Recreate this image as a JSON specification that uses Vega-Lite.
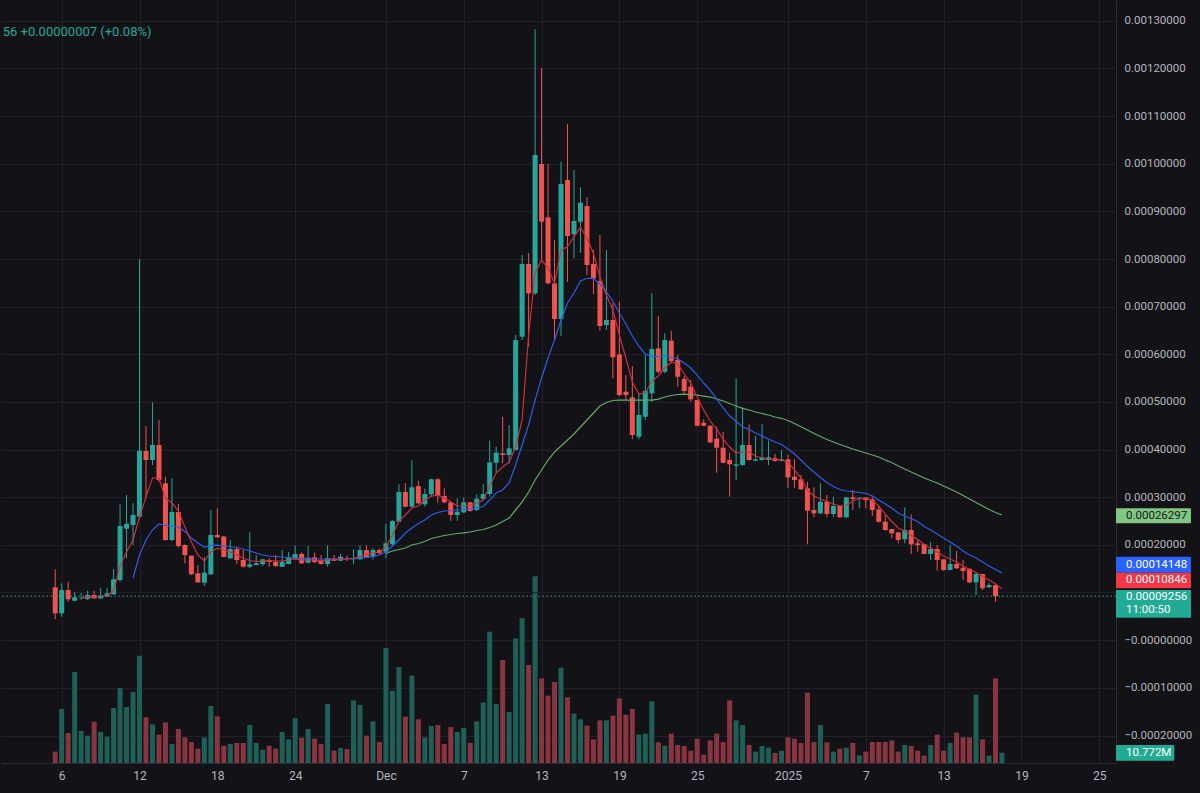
{
"$schema": "https://vega.github.io/schema/vega-lite/v6.json",
"width": 1115, "height": 763, "padding": 0, "background": "#131317",
"config": {"view": {"stroke": null}, "font": "Roboto", "text": {"font": "Roboto"}},
"data": {"values": [
{"t":"2024-11-05T12:00","open":0.0001112,"high":0.000149,"low":0.0000441,"close":0.0000566,"volume":11.9},
{"t":"2024-11-06T00:00","open":0.0000566,"high":0.0001196,"low":0.0000495,"close":0.0001055,"volume":56.5},
{"t":"2024-11-06T12:00","open":0.0001055,"high":0.0001229,"low":0.000081,"close":0.000086,"volume":31.4},
{"t":"2024-11-07T00:00","open":0.0000831,"high":0.000102,"low":0.0000825,"close":0.0000902,"volume":95.2},
{"t":"2024-11-07T12:00","open":0.0000877,"high":0.0000992,"low":0.0000856,"close":0.0000887,"volume":33.5,"ma_fast":0.0000887},
{"t":"2024-11-08T00:00","open":0.0000866,"high":0.0001041,"low":0.0000845,"close":0.000095,"volume":28.6,"ma_fast":0.0000908},
{"t":"2024-11-08T12:00","open":0.000095,"high":0.0001041,"low":0.0000866,"close":0.0000881,"volume":43.2,"ma_fast":0.0000908},
{"t":"2024-11-09T00:00","open":0.0000881,"high":0.0001097,"low":0.0000866,"close":0.0000936,"volume":32.4,"ma_fast":0.0000919},
{"t":"2024-11-09T12:00","open":0.0000915,"high":0.0001104,"low":0.0000908,"close":0.0000986,"volume":27.5,"ma_fast":0.000094},
{"t":"2024-11-10T00:00","open":0.0000965,"high":0.0001496,"low":0.000095,"close":0.000128,"volume":57.5,"ma_fast":0.0001034},
{"t":"2024-11-10T12:00","open":0.0001265,"high":0.0002853,"low":0.0001229,"close":0.0002398,"volume":78.4,"ma_fast":0.0001559},
{"t":"2024-11-11T00:00","open":0.0002341,"high":0.0003048,"low":0.000172,"close":0.000244,"volume":58.6,"ma_fast":0.0001853},
{"t":"2024-11-11T12:00","open":0.0002419,"high":0.0002874,"low":0.0001999,"close":0.0002629,"volume":74.3,"ma_fast":0.0002104,"ma_mid":0.0001307},
{"t":"2024-11-12T00:00","open":0.0002593,"high":0.0007993,"low":0.000256,"close":0.0003978,"volume":112.2,"ma_fast":0.0002587,"ma_mid":0.000179},
{"t":"2024-11-12T12:00","open":0.0003972,"high":0.0004496,"low":0.0002979,"close":0.0003783,"volume":47.8,"ma_fast":0.0003006,"ma_mid":0.0002104},
{"t":"2024-11-13T00:00","open":0.0003783,"high":0.0004993,"low":0.0003678,"close":0.0004097,"volume":40.4,"ma_fast":0.0003405,"ma_mid":0.0002314},
{"t":"2024-11-13T12:00","open":0.0004097,"high":0.0004622,"low":0.000332,"close":0.0003363,"volume":29.6,"ma_fast":0.0003405,"ma_mid":0.000244},
{"t":"2024-11-14T00:00","open":0.0003294,"high":0.0003432,"low":0.000209,"close":0.0002104,"volume":42.5,"ma_fast":0.0002985,"ma_mid":0.0002409},
{"t":"2024-11-14T12:00","open":0.0002104,"high":0.0003399,"low":0.000208,"close":0.0002692,"volume":19.9,"ma_fast":0.0002881,"ma_mid":0.0002398},
{"t":"2024-11-15T00:00","open":0.0002692,"high":0.000286,"low":0.0001943,"close":0.0001978,"volume":35.6,"ma_fast":0.0002713,"ma_mid":0.0002377},
{"t":"2024-11-15T12:00","open":0.0001999,"high":0.000201,"low":0.0001615,"close":0.000179,"volume":26.8,"ma_fast":0.0002377,"ma_mid":0.0002283},
{"t":"2024-11-16T00:00","open":0.0001775,"high":0.000178,"low":0.000137,"close":0.0001385,"volume":22.0,"ma_fast":0.0002062,"ma_mid":0.0002146},
{"t":"2024-11-16T12:00","open":0.0001406,"high":0.000158,"low":0.0001205,"close":0.0001217,"volume":15.0,"ma_fast":0.000179,"ma_mid":0.0002041},
{"t":"2024-11-17T00:00","open":0.0001208,"high":0.0001754,"low":0.0001139,"close":0.0001418,"volume":26.8,"ma_fast":0.0001664,"ma_mid":0.0001957},
{"t":"2024-11-17T12:00","open":0.0001385,"high":0.0002734,"low":0.000137,"close":0.0002209,"volume":59.6,"ma_fast":0.0001853,"ma_mid":0.0001989},
{"t":"2024-11-18T00:00","open":0.0002209,"high":0.0002769,"low":0.000215,"close":0.0002161,"volume":48.8,"ma_fast":0.0001936,"ma_mid":0.0001999},
{"t":"2024-11-18T12:00","open":0.0002178,"high":0.000219,"low":0.0001741,"close":0.0001748,"volume":18.1,"ma_fast":0.0001894,"ma_mid":0.0001978},
{"t":"2024-11-19T00:00","open":0.000172,"high":0.0002104,"low":0.000171,"close":0.0001916,"volume":19.9,"ma_fast":0.0001853,"ma_mid":0.0001968},
{"t":"2024-11-19T12:00","open":0.0001916,"high":0.0001964,"low":0.0001601,"close":0.0001685,"volume":20.9,"ma_fast":0.000179,"ma_mid":0.0001947},
{"t":"2024-11-20T00:00","open":0.0001685,"high":0.0001895,"low":0.000153,"close":0.0001544,"volume":20.9,"ma_fast":0.0001727,"ma_mid":0.0001915},
{"t":"2024-11-20T12:00","open":0.0001544,"high":0.0002266,"low":0.0001511,"close":0.0001595,"volume":39.7,"ma_fast":0.0001674,"ma_mid":0.0001873},
{"t":"2024-11-21T00:00","open":0.000158,"high":0.000179,"low":0.000157,"close":0.0001615,"volume":20.9,"ma_fast":0.0001653,"ma_mid":0.0001832},
{"t":"2024-11-21T12:00","open":0.0001601,"high":0.000171,"low":0.0001559,"close":0.0001699,"volume":13.9,"ma_fast":0.0001664,"ma_mid":0.000179},
{"t":"2024-11-22T00:00","open":0.0001685,"high":0.0001727,"low":0.0001544,"close":0.0001643,"volume":18.1,"ma_fast":0.0001674,"ma_mid":0.0001769},
{"t":"2024-11-22T12:00","open":0.0001649,"high":0.000179,"low":0.0001544,"close":0.0001559,"volume":15.0,"ma_fast":0.0001664,"ma_mid":0.0001758},
{"t":"2024-11-23T00:00","open":0.0001544,"high":0.0001895,"low":0.0001538,"close":0.0001643,"volume":32.4,"ma_fast":0.0001664,"ma_mid":0.0001748},
{"t":"2024-11-23T12:00","open":0.0001601,"high":0.0001853,"low":0.000159,"close":0.0001741,"volume":24.7,"ma_fast":0.0001685,"ma_mid":0.0001737},
{"t":"2024-11-24T00:00","open":0.0001712,"high":0.0001993,"low":0.0001706,"close":0.0001811,"volume":46.7,"ma_fast":0.0001706,"ma_mid":0.0001727},
{"t":"2024-11-24T12:00","open":0.0001811,"high":0.0001846,"low":0.00016,"close":0.0001615,"volume":26.5,"ma_fast":0.0001685,"ma_mid":0.000172},
{"t":"2024-11-25T00:00","open":0.0001628,"high":0.0001978,"low":0.000162,"close":0.0001733,"volume":35.6,"ma_fast":0.0001685,"ma_mid":0.0001714},
{"t":"2024-11-25T12:00","open":0.0001741,"high":0.0001838,"low":0.0001615,"close":0.0001643,"volume":25.4,"ma_fast":0.0001685,"ma_mid":0.0001706},
{"t":"2024-11-26T00:00","open":0.000167,"high":0.000179,"low":0.000159,"close":0.0001601,"volume":19.9,"ma_fast":0.0001664,"ma_mid":0.0001706},
{"t":"2024-11-26T12:00","open":0.0001601,"high":0.0001993,"low":0.0001544,"close":0.000172,"volume":61.7,"ma_fast":0.0001685,"ma_mid":0.0001706},
{"t":"2024-11-27T00:00","open":0.0001712,"high":0.000179,"low":0.0001664,"close":0.000167,"volume":12.9,"ma_fast":0.0001695,"ma_mid":0.0001706},
{"t":"2024-11-27T12:00","open":0.000167,"high":0.0001811,"low":0.0001664,"close":0.0001754,"volume":15.7,"ma_fast":0.0001706,"ma_mid":0.0001706},
{"t":"2024-11-28T00:00","open":0.000172,"high":0.0001775,"low":0.0001664,"close":0.0001715,"volume":14.6,"ma_fast":0.0001706,"ma_mid":0.0001706},
{"t":"2024-11-28T12:00","open":0.0001699,"high":0.0001909,"low":0.0001601,"close":0.000172,"volume":65.5,"ma_fast":0.0001716,"ma_mid":0.0001716},
{"t":"2024-11-29T00:00","open":0.0001699,"high":0.0001993,"low":0.000169,"close":0.0001895,"volume":60.7,"ma_fast":0.0001769,"ma_mid":0.0001727},
{"t":"2024-11-29T12:00","open":0.0001895,"high":0.0001993,"low":0.000173,"close":0.0001741,"volume":28.6,"ma_fast":0.0001811,"ma_mid":0.0001741},
{"t":"2024-11-30T00:00","open":0.0001754,"high":0.0001937,"low":0.0001699,"close":0.0001895,"volume":43.6,"ma_fast":0.0001832,"ma_mid":0.0001758},
{"t":"2024-11-30T12:00","open":0.0001895,"high":0.0001922,"low":0.0001804,"close":0.0001825,"volume":22.0,"ma_fast":0.0001853,"ma_mid":0.000179},
{"t":"2024-12-01T00:00","open":0.0001859,"high":0.000244,"low":0.000172,"close":0.0002035,"volume":120.3,"ma_fast":0.0001957,"ma_mid":0.0001853,"ma_slow":0.0001821},
{"t":"2024-12-01T12:00","open":0.0002014,"high":0.000252,"low":0.0002,"close":0.0002503,"volume":75.6,"ma_fast":0.0002209,"ma_mid":0.0001978,"ma_slow":0.0001873},
{"t":"2024-12-02T00:00","open":0.0002488,"high":0.0003273,"low":0.000248,"close":0.0003111,"volume":100.4,"ma_fast":0.0002503,"ma_mid":0.0002104,"ma_slow":0.0001905},
{"t":"2024-12-02T12:00","open":0.0003111,"high":0.0003294,"low":0.000279,"close":0.0002803,"volume":48.5,"ma_fast":0.0002629,"ma_mid":0.0002251,"ma_slow":0.0001936},
{"t":"2024-12-03T00:00","open":0.0002803,"high":0.0003776,"low":0.000279,"close":0.000321,"volume":91.3,"ma_fast":0.0002776,"ma_mid":0.0002356,"ma_slow":0.0001999},
{"t":"2024-12-03T12:00","open":0.0003237,"high":0.0003349,"low":0.000286,"close":0.0002874,"volume":45.7,"ma_fast":0.0002818,"ma_mid":0.000245,"ma_slow":0.0002031},
{"t":"2024-12-04T00:00","open":0.0002853,"high":0.0003181,"low":0.0002803,"close":0.0003069,"volume":26.8,"ma_fast":0.0002943,"ma_mid":0.0002524,"ma_slow":0.0002073},
{"t":"2024-12-04T12:00","open":0.0003063,"high":0.000339,"low":0.0003013,"close":0.0003378,"volume":38.7,"ma_fast":0.0003027,"ma_mid":0.0002629,"ma_slow":0.0002136},
{"t":"2024-12-05T00:00","open":0.0003378,"high":0.0003399,"low":0.0002887,"close":0.0003027,"volume":39.7,"ma_fast":0.0003048,"ma_mid":0.0002681,"ma_slow":0.0002167},
{"t":"2024-12-05T12:00","open":0.0003027,"high":0.0003189,"low":0.0002874,"close":0.0002895,"volume":19.9,"ma_fast":0.0002985,"ma_mid":0.0002713,"ma_slow":0.0002199},
{"t":"2024-12-06T00:00","open":0.0002895,"high":0.0002905,"low":0.0002509,"close":0.0002629,"volume":37.6,"ma_fast":0.0002908,"ma_mid":0.0002723,"ma_slow":0.000222},
{"t":"2024-12-06T12:00","open":0.0002629,"high":0.0002979,"low":0.0002509,"close":0.0002698,"volume":32.4,"ma_fast":0.0002818,"ma_mid":0.0002734,"ma_slow":0.0002241},
{"t":"2024-12-07T00:00","open":0.0002685,"high":0.0003,"low":0.0002664,"close":0.0002895,"volume":36.6,"ma_fast":0.0002818,"ma_mid":0.0002744,"ma_slow":0.0002255},
{"t":"2024-12-07T12:00","open":0.0002895,"high":0.0002905,"low":0.0002698,"close":0.0002713,"volume":20.9,"ma_fast":0.0002839,"ma_mid":0.0002755,"ma_slow":0.0002272},
{"t":"2024-12-08T00:00","open":0.0002734,"high":0.0003063,"low":0.0002713,"close":0.0002971,"volume":43.6,"ma_fast":0.000287,"ma_mid":0.0002776,"ma_slow":0.0002304},
{"t":"2024-12-08T12:00","open":0.0002964,"high":0.0003279,"low":0.0002943,"close":0.0003069,"volume":63.4,"ma_fast":0.0002943,"ma_mid":0.0002807,"ma_slow":0.0002325},
{"t":"2024-12-09T00:00","open":0.0003069,"high":0.0004188,"low":0.0003013,"close":0.0003734,"volume":137.3,"ma_fast":0.0003237,"ma_mid":0.0002943,"ma_slow":0.0002367},
{"t":"2024-12-09T12:00","open":0.0003726,"high":0.0004062,"low":0.0003516,"close":0.0003936,"volume":61.7,"ma_fast":0.000351,"ma_mid":0.000309,"ma_slow":0.0002419},
{"t":"2024-12-10T00:00","open":0.0003923,"high":0.0004691,"low":0.0003713,"close":0.0003888,"volume":107.7,"ma_fast":0.0003636,"ma_mid":0.0003153,"ma_slow":0.0002492},
{"t":"2024-12-10T12:00","open":0.0003888,"high":0.0004517,"low":0.0003713,"close":0.0004028,"volume":53.3,"ma_fast":0.0003741,"ma_mid":0.00033,"ma_slow":0.0002566},
{"t":"2024-12-11T00:00","open":0.0003992,"high":0.0006405,"low":0.000399,"close":0.00063,"volume":130.4,"ma_fast":0.0004055,"ma_mid":0.0003678,"ma_slow":0.0002734},
{"t":"2024-12-11T12:00","open":0.000637,"high":0.0008084,"low":0.00063,"close":0.0007895,"volume":151.3,"ma_fast":0.0004622,"ma_mid":0.0004097,"ma_slow":0.0002902},
{"t":"2024-12-12T00:00","open":0.0007895,"high":0.0008119,"low":0.000616,"close":0.000728,"volume":102.5,"ma_fast":0.0006405,"ma_mid":0.0004517,"ma_slow":0.0003111},
{"t":"2024-12-12T12:00","open":0.000728,"high":0.0012819,"low":0.0007244,"close":0.0010182,"volume":195.2,"ma_fast":0.0007706,"ma_mid":0.0005041,"ma_slow":0.0003363},
{"t":"2024-12-13T00:00","open":0.0009993,"high":0.0012001,"low":0.0007979,"close":0.0008782,"volume":88.5,"ma_fast":0.0007979,"ma_mid":0.0005503,"ma_slow":0.0003573},
{"t":"2024-12-13T12:00","open":0.0008875,"high":0.0009993,"low":0.000747,"close":0.000749,"volume":70.4,"ma_fast":0.0007811,"ma_mid":0.0005923,"ma_slow":0.0003783},
{"t":"2024-12-14T00:00","open":0.000749,"high":0.0008398,"low":0.00063,"close":0.0006741,"volume":84.7,"ma_fast":0.0007496,"ma_mid":0.00063,"ma_slow":0.0003951},
{"t":"2024-12-14T12:00","open":0.0006741,"high":0.0010041,"low":0.0006384,"close":0.0009573,"volume":99.7,"ma_fast":0.0008188,"ma_mid":0.000672,"ma_slow":0.0004076},
{"t":"2024-12-15T00:00","open":0.0009657,"high":0.0010832,"low":0.0007523,"close":0.0008482,"volume":68.7,"ma_fast":0.0008258,"ma_mid":0.0007077,"ma_slow":0.0004202},
{"t":"2024-12-15T12:00","open":0.0008518,"high":0.0009867,"low":0.0008014,"close":0.0008797,"volume":51.6,"ma_fast":0.0008468,"ma_mid":0.0007286,"ma_slow":0.0004328},
{"t":"2024-12-16T00:00","open":0.0008782,"high":0.0009504,"low":0.0008132,"close":0.0009181,"volume":45.7,"ma_fast":0.0008665,"ma_mid":0.0007538,"ma_slow":0.0004475},
{"t":"2024-12-16T12:00","open":0.0009112,"high":0.0009294,"low":0.0007664,"close":0.0007874,"volume":39.0,"ma_fast":0.0008434,"ma_mid":0.0007595,"ma_slow":0.0004622},
{"t":"2024-12-17T00:00","open":0.0007895,"high":0.0008189,"low":0.0007265,"close":0.0007595,"volume":24.7,"ma_fast":0.0008119,"ma_mid":0.0007595,"ma_slow":0.0004769},
{"t":"2024-12-17T12:00","open":0.0007538,"high":0.0008503,"low":0.0006495,"close":0.0006594,"volume":44.6,"ma_fast":0.0007628,"ma_mid":0.0007475,"ma_slow":0.0004916},
{"t":"2024-12-18T00:00","open":0.0006615,"high":0.0008189,"low":0.000651,"close":0.000672,"volume":44.6,"ma_fast":0.0007244,"ma_mid":0.0007307,"ma_slow":0.0004989},
{"t":"2024-12-18T12:00","open":0.000672,"high":0.0007083,"low":0.0005497,"close":0.0005937,"volume":49.5,"ma_fast":0.000693,"ma_mid":0.0007119,"ma_slow":0.0005031},
{"t":"2024-12-19T00:00","open":0.0006,"high":0.0007104,"low":0.000513,"close":0.0005146,"volume":67.6,"ma_fast":0.0006405,"ma_mid":0.0006867,"ma_slow":0.0005041},
{"t":"2024-12-19T12:00","open":0.0005216,"high":0.0005566,"low":0.0005041,"close":0.0005146,"volume":50.5,"ma_fast":0.0005923,"ma_mid":0.0006636,"ma_slow":0.0005041},
{"t":"2024-12-20T00:00","open":0.0005098,"high":0.0005755,"low":0.0004217,"close":0.0004307,"volume":56.5,"ma_fast":0.0005419,"ma_mid":0.0006384,"ma_slow":0.0005041},
{"t":"2024-12-20T12:00","open":0.0004272,"high":0.0005182,"low":0.0004217,"close":0.0004727,"volume":29.6,"ma_fast":0.0005167,"ma_mid":0.0006174,"ma_slow":0.0005041},
{"t":"2024-12-21T00:00","open":0.0004691,"high":0.0005986,"low":0.0004622,"close":0.000523,"volume":30.7,"ma_fast":0.0005188,"ma_mid":0.0006007,"ma_slow":0.0005041},
{"t":"2024-12-21T12:00","open":0.0005182,"high":0.000728,"low":0.0005006,"close":0.0006112,"volume":64.5,"ma_fast":0.000544,"ma_mid":0.0005954,"ma_slow":0.0005041},
{"t":"2024-12-22T00:00","open":0.0006126,"high":0.0006804,"low":0.0005602,"close":0.0005635,"volume":21.6,"ma_fast":0.0005545,"ma_mid":0.0005954,"ma_slow":0.0005062},
{"t":"2024-12-22T12:00","open":0.0005635,"high":0.0006441,"low":0.0005602,"close":0.00063,"volume":18.1,"ma_fast":0.0005713,"ma_mid":0.0005965,"ma_slow":0.0005104},
{"t":"2024-12-23T00:00","open":0.0006286,"high":0.0006495,"low":0.0005812,"close":0.000586,"volume":30.7,"ma_fast":0.0005839,"ma_mid":0.0005944,"ma_slow":0.0005136},
{"t":"2024-12-23T12:00","open":0.0005881,"high":0.0005986,"low":0.0005321,"close":0.000553,"volume":18.8,"ma_fast":0.0005797,"ma_mid":0.0005902,"ma_slow":0.0005157},
{"t":"2024-12-24T00:00","open":0.0005482,"high":0.0005545,"low":0.0005188,"close":0.000523,"volume":17.8,"ma_fast":0.0005587,"ma_mid":0.0005818,"ma_slow":0.0005167},
{"t":"2024-12-24T12:00","open":0.0005321,"high":0.0005461,"low":0.0005006,"close":0.0005056,"volume":12.9,"ma_fast":0.0005398,"ma_mid":0.0005713,"ma_slow":0.0005157},
{"t":"2024-12-25T00:00","open":0.0005041,"high":0.000505,"low":0.000449,"close":0.0004502,"volume":25.4,"ma_fast":0.0005104,"ma_mid":0.0005566,"ma_slow":0.0005146},
{"t":"2024-12-25T12:00","open":0.0004565,"high":0.0004637,"low":0.000449,"close":0.0004502,"volume":8.7,"ma_fast":0.0004832,"ma_mid":0.0005398,"ma_slow":0.0005125},
{"t":"2024-12-26T00:00","open":0.0004502,"high":0.000451,"low":0.0004133,"close":0.0004154,"volume":23.7,"ma_fast":0.0004601,"ma_mid":0.0005251,"ma_slow":0.0005104},
{"t":"2024-12-26T12:00","open":0.000423,"high":0.0004482,"low":0.0003516,"close":0.0004041,"volume":30.7,"ma_fast":0.0004433,"ma_mid":0.0005062,"ma_slow":0.0005062},
{"t":"2024-12-27T00:00","open":0.0004041,"high":0.0004377,"low":0.000371,"close":0.0003726,"volume":22.0,"ma_fast":0.0004223,"ma_mid":0.0004874,"ma_slow":0.000502},
{"t":"2024-12-27T12:00","open":0.0003783,"high":0.0003936,"low":0.0003013,"close":0.0003693,"volume":65.5,"ma_fast":0.0004055,"ma_mid":0.0004706,"ma_slow":0.0004968},
{"t":"2024-12-28T00:00","open":0.0003663,"high":0.0005497,"low":0.0003363,"close":0.0003693,"volume":44.6,"ma_fast":0.000393,"ma_mid":0.000459,"ma_slow":0.0004916},
{"t":"2024-12-28T12:00","open":0.0003678,"high":0.0004888,"low":0.0003663,"close":0.0004097,"volume":39.7,"ma_fast":0.0003951,"ma_mid":0.0004481,"ma_slow":0.0004867},
{"t":"2024-12-29T00:00","open":0.0004097,"high":0.0004532,"low":0.000377,"close":0.0003783,"volume":18.8,"ma_fast":0.0003951,"ma_mid":0.0004423,"ma_slow":0.0004832},
{"t":"2024-12-29T12:00","open":0.0003768,"high":0.0004286,"low":0.000376,"close":0.0003797,"volume":11.9,"ma_fast":0.0003867,"ma_mid":0.0004349,"ma_slow":0.000479},
{"t":"2024-12-30T00:00","open":0.0003783,"high":0.0004538,"low":0.000377,"close":0.0003839,"volume":17.8,"ma_fast":0.0003825,"ma_mid":0.0004286,"ma_slow":0.0004758},
{"t":"2024-12-30T12:00","open":0.0003783,"high":0.0004188,"low":0.0003678,"close":0.0003839,"volume":16.0,"ma_fast":0.0003804,"ma_mid":0.0004223,"ma_slow":0.0004727},
{"t":"2024-12-31T00:00","open":0.0003825,"high":0.0003909,"low":0.0003741,"close":0.0003762,"volume":10.5,"ma_fast":0.0003797,"ma_mid":0.000416,"ma_slow":0.0004685},
{"t":"2024-12-31T12:00","open":0.0003762,"high":0.0003993,"low":0.000375,"close":0.0003797,"volume":12.9,"ma_fast":0.0003783,"ma_mid":0.0004108,"ma_slow":0.0004658},
{"t":"2025-01-01T00:00","open":0.0003797,"high":0.0003888,"low":0.0003202,"close":0.000342,"volume":26.8,"ma_fast":0.0003741,"ma_mid":0.0004013,"ma_slow":0.0004611},
{"t":"2025-01-01T12:00","open":0.0003432,"high":0.0003797,"low":0.0003202,"close":0.0003363,"volume":25.4,"ma_fast":0.0003573,"ma_mid":0.0003909,"ma_slow":0.0004548},
{"t":"2025-01-02T00:00","open":0.0003378,"high":0.0003468,"low":0.0003153,"close":0.0003168,"volume":20.9,"ma_fast":0.0003405,"ma_mid":0.0003783,"ma_slow":0.0004481},
{"t":"2025-01-02T12:00","open":0.0003189,"high":0.0003327,"low":0.0002014,"close":0.0002719,"volume":73.6,"ma_fast":0.0003153,"ma_mid":0.0003646,"ma_slow":0.0004412},
{"t":"2025-01-03T00:00","open":0.0002734,"high":0.000321,"low":0.0002581,"close":0.0002664,"volume":22.0,"ma_fast":0.0003027,"ma_mid":0.0003531,"ma_slow":0.0004339},
{"t":"2025-01-03T12:00","open":0.0002664,"high":0.0003294,"low":0.000265,"close":0.0002908,"volume":39.7,"ma_fast":0.0002964,"ma_mid":0.0003416,"ma_slow":0.0004276},
{"t":"2025-01-04T00:00","open":0.0002908,"high":0.0003048,"low":0.0002587,"close":0.000265,"volume":21.6,"ma_fast":0.0002912,"ma_mid":0.0003311,"ma_slow":0.0004213},
{"t":"2025-01-04T12:00","open":0.000265,"high":0.0003013,"low":0.0002593,"close":0.0002818,"volume":11.9,"ma_fast":0.000286,"ma_mid":0.0003227,"ma_slow":0.000416},
{"t":"2025-01-05T00:00","open":0.0002818,"high":0.0002825,"low":0.000257,"close":0.0002581,"volume":15.0,"ma_fast":0.0002818,"ma_mid":0.0003164,"ma_slow":0.0004108},
{"t":"2025-01-05T12:00","open":0.0002581,"high":0.000301,"low":0.000257,"close":0.0003,"volume":16.0,"ma_fast":0.0002828,"ma_mid":0.0003132,"ma_slow":0.0004062},
{"t":"2025-01-06T00:00","open":0.0003,"high":0.0003153,"low":0.0002734,"close":0.0002964,"volume":20.9,"ma_fast":0.0002922,"ma_mid":0.0003118,"ma_slow":0.0004013},
{"t":"2025-01-06T12:00","open":0.0002971,"high":0.0003002,"low":0.0002769,"close":0.0002992,"volume":8.0,"ma_fast":0.0002975,"ma_mid":0.0003101,"ma_slow":0.0003972},
{"t":"2025-01-07T00:00","open":0.0003,"high":0.0003005,"low":0.0002769,"close":0.0002943,"volume":11.9,"ma_fast":0.0002979,"ma_mid":0.0003084,"ma_slow":0.000393},
{"t":"2025-01-07T12:00","open":0.0002958,"high":0.0003,"low":0.0002608,"close":0.0002734,"volume":22.0,"ma_fast":0.0002933,"ma_mid":0.0003027,"ma_slow":0.0003888},
{"t":"2025-01-08T00:00","open":0.0002748,"high":0.0002818,"low":0.0002467,"close":0.0002488,"volume":22.0,"ma_fast":0.0002818,"ma_mid":0.0002943,"ma_slow":0.0003846},
{"t":"2025-01-08T12:00","open":0.0002488,"high":0.0002629,"low":0.0002299,"close":0.0002314,"volume":22.0,"ma_fast":0.000265,"ma_mid":0.000286,"ma_slow":0.0003783},
{"t":"2025-01-09T00:00","open":0.0002335,"high":0.000234,"low":0.000214,"close":0.0002245,"volume":23.7,"ma_fast":0.0002492,"ma_mid":0.0002776,"ma_slow":0.000373},
{"t":"2025-01-09T12:00","open":0.0002266,"high":0.000227,"low":0.0002035,"close":0.0002104,"volume":11.9,"ma_fast":0.0002356,"ma_mid":0.0002671,"ma_slow":0.0003657},
{"t":"2025-01-10T00:00","open":0.0002119,"high":0.000279,"low":0.0002035,"close":0.0002314,"volume":18.8,"ma_fast":0.0002293,"ma_mid":0.0002608,"ma_slow":0.0003594},
{"t":"2025-01-10T12:00","open":0.0002314,"high":0.0002644,"low":0.0001811,"close":0.0002014,"volume":17.8,"ma_fast":0.0002199,"ma_mid":0.0002555,"ma_slow":0.0003531},
{"t":"2025-01-11T00:00","open":0.0002035,"high":0.0002119,"low":0.0001859,"close":0.0001999,"volume":12.9,"ma_fast":0.0002115,"ma_mid":0.0002492,"ma_slow":0.0003468},
{"t":"2025-01-11T12:00","open":0.000202,"high":0.0002025,"low":0.0001805,"close":0.0001811,"volume":7.7,"ma_fast":0.000201,"ma_mid":0.0002388,"ma_slow":0.0003405},
{"t":"2025-01-12T00:00","open":0.0001811,"high":0.0002062,"low":0.0001685,"close":0.0001916,"volume":18.8,"ma_fast":0.0001936,"ma_mid":0.0002314,"ma_slow":0.0003353},
{"t":"2025-01-12T12:00","open":0.0001916,"high":0.0001999,"low":0.000146,"close":0.0001685,"volume":29.6,"ma_fast":0.0001853,"ma_mid":0.000223,"ma_slow":0.00033},
{"t":"2025-01-13T00:00","open":0.0001699,"high":0.0001703,"low":0.000146,"close":0.0001475,"volume":12.9,"ma_fast":0.0001769,"ma_mid":0.0002146,"ma_slow":0.0003237},
{"t":"2025-01-13T12:00","open":0.0001475,"high":0.0001999,"low":0.000147,"close":0.0001601,"volume":20.9,"ma_fast":0.0001706,"ma_mid":0.0002062,"ma_slow":0.0003174},
{"t":"2025-01-14T00:00","open":0.0001601,"high":0.000188,"low":0.0001496,"close":0.0001511,"volume":31.7,"ma_fast":0.0001643,"ma_mid":0.0001978,"ma_slow":0.0003111},
{"t":"2025-01-14T12:00","open":0.0001523,"high":0.0001685,"low":0.0001265,"close":0.0001454,"volume":26.8,"ma_fast":0.0001559,"ma_mid":0.0001873,"ma_slow":0.0003038},
{"t":"2025-01-15T00:00","open":0.0001502,"high":0.0001505,"low":0.0001196,"close":0.0001217,"volume":26.8,"ma_fast":0.0001485,"ma_mid":0.000179,"ma_slow":0.0002964},
{"t":"2025-01-15T12:00","open":0.0001217,"high":0.0001427,"low":0.000095,"close":0.0001391,"volume":71.5,"ma_fast":0.0001422,"ma_mid":0.0001727,"ma_slow":0.0002891},
{"t":"2025-01-16T00:00","open":0.0001391,"high":0.0001395,"low":0.0001055,"close":0.0001091,"volume":24.7,"ma_fast":0.0001339,"ma_mid":0.0001643,"ma_slow":0.0002818},
{"t":"2025-01-16T12:00","open":0.0001112,"high":0.0001196,"low":0.0001108,"close":0.000116,"volume":7.7,"ma_fast":0.0001265,"ma_mid":0.0001559,"ma_slow":0.0002744},
{"t":"2025-01-17T00:00","open":0.000116,"high":0.0001165,"low":0.000081,"close":0.00009249,"volume":88.5,"ma_fast":0.0001181,"ma_mid":0.0001485,"ma_slow":0.0002681},
{"t":"2025-01-17T12:00","open":0.00009249,"high":0.0000935,"low":0.000092,"close":0.00009256,"volume":10.772,"ma_fast":0.00010846,"ma_mid":0.00014148,"ma_slow":0.00026297}
]},
"resolve": {"scale": {"y": "independent"}},
"layer": [
{"mark": {"type": "bar", "size": 5},
 "encoding": {
  "x": {"field": "t", "type": "temporal",
   "scale": {"domain": [{"year": 2024, "month": 11, "date": 1, "hours": 7, "minutes": 41}, {"year": 2025, "month": 1, "date": 26, "hours": 6, "minutes": 58}], "padding": 0},
   "axis": {"title": null, "values": [{"year":2024,"month":11,"date":6},{"year":2024,"month":11,"date":12},{"year":2024,"month":11,"date":18},{"year":2024,"month":11,"date":24},{"year":2024,"month":12,"date":1},{"year":2024,"month":12,"date":7},{"year":2024,"month":12,"date":13},{"year":2024,"month":12,"date":19},{"year":2024,"month":12,"date":25},{"year":2025,"month":1,"date":1},{"year":2025,"month":1,"date":7},{"year":2025,"month":1,"date":13},{"year":2025,"month":1,"date":19},{"year":2025,"month":1,"date":25}],
    "labelExpr": "date(datum.value) == 1 ? (month(datum.value) == 0 ? timeFormat(datum.value, '%Y') : timeFormat(datum.value, '%b')) : timeFormat(datum.value, '%-d')",
    "grid": true, "gridColor": "#202026", "ticks": false, "labelPadding": 7, "labelFontSize": 12, "labelColor": "#b2b5be", "labelFont": "Roboto", "domainColor": "#2a2a31", "labelOverlap": false, "labelFlush": false}},
  "y": {"field": "volume", "type": "quantitative", "scale": {"domain": [0, 798], "nice": false}, "axis": null},
  "color": {"condition": {"test": "datum.close >= datum.open", "value": "#1e5f57"}, "value": "#873540"}
 }},
{"layer": [
 {"data": {"values": [{}]}, "mark": {"type": "rule", "color": "#202026", "strokeWidth": 1},
  "encoding": {"y": {"datum": 0.0001, "type": "quantitative", "scale": {"domain": [-0.0002574, 0.0013434], "nice": false, "zero": false},
    "axis": {"orient": "right", "title": null, "values": [-0.0002,-0.0001,0,0.0002,0.0003,0.0004,0.0005,0.0006,0.0007,0.0008,0.0009,0.001,0.0011,0.0012,0.0013],
     "labelExpr": "datum.value <= 0 ? '\u2212' + format(abs(datum.value), '.8f') : format(datum.value, '.8f')",
     "grid": true, "gridColor": "#202026", "ticks": false, "labelPadding": 8, "labelFontSize": 11.5, "labelColor": "#b2b5be", "labelFont": "Roboto", "domainColor": "#2a2a31", "labelOverlap": false, "labelFlush": false}}}},
 {"mark": {"type": "rule", "strokeWidth": 1},
  "encoding": {
   "x": {"field": "t", "type": "temporal"},
   "y": {"field": "low", "type": "quantitative"},
   "y2": {"field": "high"},
   "color": {"condition": {"test": "datum.close >= datum.open", "value": "#26a69a"}, "value": "#ef5350"}
  }},
 {"mark": {"type": "bar", "size": 5},
  "encoding": {
   "x": {"field": "t", "type": "temporal"},
   "y": {"field": "open", "type": "quantitative"},
   "y2": {"field": "close"},
   "color": {"condition": {"test": "datum.close >= datum.open", "value": "#26a69a"}, "value": "#ef5350"}
  }},
 {"mark": {"type": "line", "strokeWidth": 1.2, "color": "#66a869"},
  "encoding": {"x": {"field": "t", "type": "temporal"}, "y": {"field": "ma_slow", "type": "quantitative"}}},
 {"mark": {"type": "line", "strokeWidth": 1.2, "color": "#2e5ce6"},
  "encoding": {"x": {"field": "t", "type": "temporal"}, "y": {"field": "ma_mid", "type": "quantitative"}}},
 {"mark": {"type": "line", "strokeWidth": 1.2, "color": "#cf2f3b"},
  "encoding": {"x": {"field": "t", "type": "temporal"}, "y": {"field": "ma_fast", "type": "quantitative"}}},
 {"data": {"values": [{}]}, "mark": {"type": "rule", "strokeDash": [1.5, 2.5], "color": "#26a69a", "strokeWidth": 1},
  "encoding": {"y": {"datum": 0.00009256}}},
 {"data": {"values": [{}]}, "mark": {"type": "rect", "opacity": 0},
  "encoding": {"x": {"datum": {"year":2025,"month":1,"date":26,"hours":6,"minutes":58}, "type": "temporal"}, "x2": {"datum": {"year":2025,"month":2,"date":1,"hours":20,"minutes":16}}, "y": {"datum": 0}, "y2": {"datum": -0.0003204}}},
 {"data": {"values": [{}]}, "mark": {"type": "rect", "fill": "#81c784", "cornerRadius": 1},
  "encoding": {"x": {"datum": {"year":2025,"month":1,"date":26,"hours":6,"minutes":58}, "type": "temporal"}, "x2": {"datum": {"year":2025,"month":2,"date":1,"hours":1,"minutes":45}}, "y": {"datum": 0.0002769}, "y2": {"datum": 0.0002455}}},
 {"data": {"values": [{}]}, "mark": {"type": "rect", "fill": "#2962ff", "cornerRadius": 1},
  "encoding": {"x": {"datum": {"year":2025,"month":1,"date":26,"hours":6,"minutes":58}, "type": "temporal"}, "x2": {"datum": {"year":2025,"month":2,"date":1,"hours":1,"minutes":45}}, "y": {"datum": 0.0001754}, "y2": {"datum": 0.0001418}}},
 {"data": {"values": [{}]}, "mark": {"type": "rect", "fill": "#f23645", "cornerRadius": 1},
  "encoding": {"x": {"datum": {"year":2025,"month":1,"date":26,"hours":6,"minutes":58}, "type": "temporal"}, "x2": {"datum": {"year":2025,"month":2,"date":1,"hours":1,"minutes":45}}, "y": {"datum": 0.0001418}, "y2": {"datum": 0.0001091}}},
 {"data": {"values": [{}]}, "mark": {"type": "rect", "fill": "#22ab94", "cornerRadius": 1},
  "encoding": {"x": {"datum": {"year":2025,"month":1,"date":26,"hours":6,"minutes":58}, "type": "temporal"}, "x2": {"datum": {"year":2025,"month":2,"date":1,"hours":1,"minutes":45}}, "y": {"datum": 0.0001055}, "y2": {"datum": 0.0000474}}},
 {"data": {"values": [{}]}, "mark": {"type": "rect", "fill": "#22ab94", "cornerRadius": 1},
  "encoding": {"x": {"datum": {"year":2025,"month":1,"date":26,"hours":6,"minutes":58}, "type": "temporal"}, "x2": {"datum": {"year":2025,"month":1,"date":30,"hours":18,"minutes":50}}, "y": {"datum": -0.0002197}, "y2": {"datum": -0.0002526}}},
 {"data": {"values": [{}]}, "mark": {"type": "text", "align": "left", "baseline": "middle", "fontSize": 11.5, "color": "#131722", "font": "Roboto"},
  "encoding": {"x": {"datum": {"year":2025,"month":1,"date":27,"hours":1,"minutes":30}, "type": "temporal"}, "y": {"datum": 0.0002612}, "text": {"value": "0.00026297"}}},
 {"data": {"values": [{}]}, "mark": {"type": "text", "align": "left", "baseline": "middle", "fontSize": 11.5, "color": "#ffffff", "font": "Roboto"},
  "encoding": {"x": {"datum": {"year":2025,"month":1,"date":27,"hours":1,"minutes":30}, "type": "temporal"}, "y": {"datum": 0.0001586}, "text": {"value": "0.00014148"}}},
 {"data": {"values": [{}]}, "mark": {"type": "text", "align": "left", "baseline": "middle", "fontSize": 11.5, "color": "#ffffff", "font": "Roboto"},
  "encoding": {"x": {"datum": {"year":2025,"month":1,"date":27,"hours":1,"minutes":30}, "type": "temporal"}, "y": {"datum": 0.0001255}, "text": {"value": "0.00010846"}}},
 {"data": {"values": [{}]}, "mark": {"type": "text", "align": "left", "baseline": "middle", "fontSize": 11.5, "color": "#ffffff", "font": "Roboto"},
  "encoding": {"x": {"datum": {"year":2025,"month":1,"date":27,"hours":1,"minutes":30}, "type": "temporal"}, "y": {"datum": 0.0000915}, "text": {"value": "0.00009256"}}},
 {"data": {"values": [{}]}, "mark": {"type": "text", "align": "left", "baseline": "middle", "fontSize": 11.5, "color": "#ffffff", "font": "Roboto"},
  "encoding": {"x": {"datum": {"year":2025,"month":1,"date":27,"hours":1,"minutes":30}, "type": "temporal"}, "y": {"datum": 0.0000636}, "text": {"value": "11:00:50"}}},
 {"data": {"values": [{}]}, "mark": {"type": "text", "align": "left", "baseline": "middle", "fontSize": 11.5, "color": "#ffffff", "font": "Roboto"},
  "encoding": {"x": {"datum": {"year":2025,"month":1,"date":27,"hours":1,"minutes":30}, "type": "temporal"}, "y": {"datum": -0.000236}, "text": {"value": "10.772M"}}},
 {"data": {"values": [{}]}, "mark": {"type": "text", "align": "left", "baseline": "middle", "fontSize": 13, "color": "#26a69a", "font": "Roboto"},
  "encoding": {"x": {"datum": {"year":2024,"month":11,"date":1,"hours":10,"minutes":47}, "type": "temporal"}, "y": {"datum": 0.0012762}, "text": {"value": "56  +0.00000007 (+0.08%)"}}}
]}
]
}
